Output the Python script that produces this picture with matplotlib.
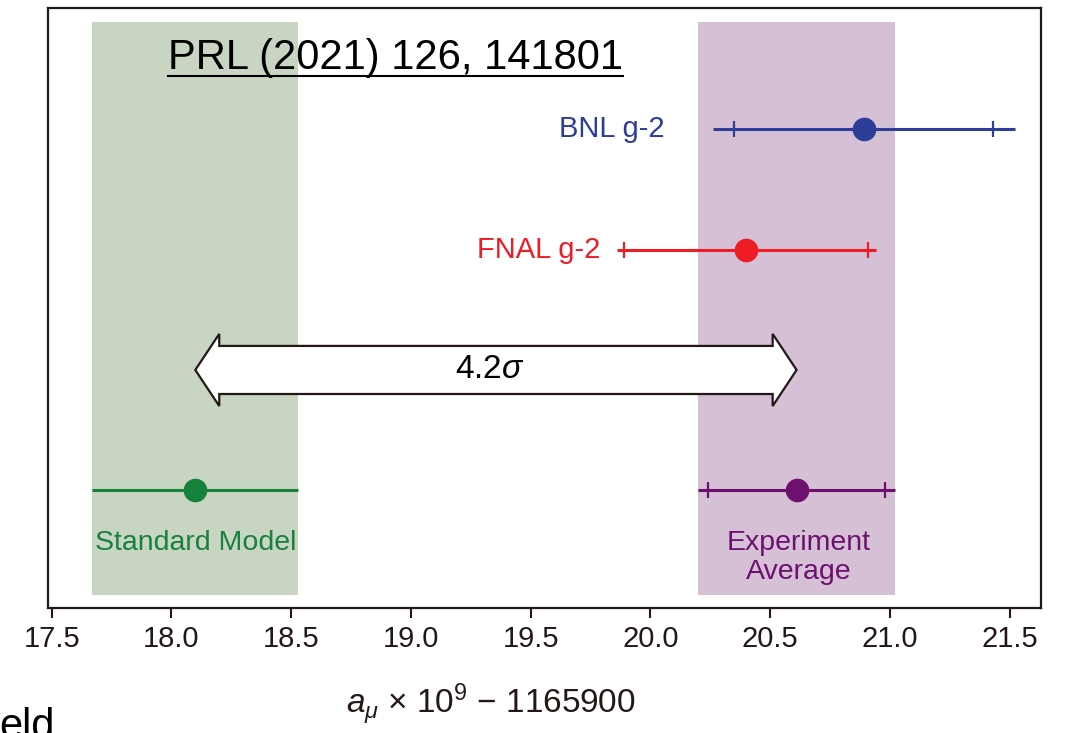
import numpy as np
import matplotlib.pyplot as plt
from matplotlib.patches import Polygon
from matplotlib.lines import Line2D

plt.rcParams['font.family'] = ['Liberation Sans', 'DejaVu Sans']
plt.rcParams['mathtext.fontset'] = 'custom'
plt.rcParams['mathtext.rm'] = 'Liberation Sans'
plt.rcParams['mathtext.it'] = 'Liberation Sans:italic'

# measurements of a_mu x 1e9 - 1165900
names = ["BNL g-2", "FNAL g-2", "Standard Model", "Experiment\nAverage"]
values = [20.89, 20.40, 18.10, 20.61]
tot_err = [0.63, 0.54, 0.43, 0.41]
stat_err = [0.54, 0.51, 0.0, 0.37]
rows = [4, 3, 1, 1]
colors = ["#2c3e98", "#ee1c24", "#17823b", "#6d1070"]
tension = "4.2$\\sigma$"
xticks = [17.5, 18.0, 18.5, 19.0, 19.5, 20.0, 20.5, 21.0, 21.5]

dark = "#231815"

fig = plt.figure(figsize=(10.66, 7.33), dpi=100)
ax = fig.add_axes([0.045, 0.1705, 0.9315, 0.8185])
ax.set_xlim(17.485, 21.63)
ax.set_ylim(0.02, 5.01)

# bands: SM and experiment average
ax.axvspan(values[2] - tot_err[2], values[2] + tot_err[2], ymin=0.022, ymax=0.977,
           color="#c8d5c3", lw=0, zorder=0)
ax.axvspan(values[3] - tot_err[3], values[3] + tot_err[3], ymin=0.022, ymax=0.977,
           color="#d5c0d6", lw=0, zorder=0)

for v, e, s, r, c in zip(values, tot_err, stat_err, rows, colors):
    ax.plot([v - e, v + e], [r, r], color=c, lw=2.2, solid_capstyle='butt', zorder=3)
    if s > 0:
        ax.plot([v - s, v + s], [r, r], ls='none', marker='|', ms=12, mew=1.6,
                color=c, zorder=3)
    ax.plot(v, r, 'o', ms=16, color=c, mec=c, zorder=4)

# labels
ax.text(20.06, 4, names[0], color=colors[0], ha='right', va='center', fontsize=21)
ax.text(19.79, 3, names[1], color=colors[1], ha='right', va='center', fontsize=21)
ax.text(values[2], 0.56, names[2], color=colors[2], ha='center', va='center',
        fontsize=20.5)
ax.text(values[3] + 0.01, 0.44, names[3], color=colors[3], ha='center', va='center',
        fontsize=20.5, linespacing=1.17)

# double arrow between SM and experiment average
x0, x1, ya = values[2], values[3], 2
hl, hh, sh = 0.1, 0.30, 0.20
verts = [(x0, ya), (x0 + hl, ya + hh), (x0 + hl, ya + sh), (x1 - hl, ya + sh),
         (x1 - hl, ya + hh), (x1, ya), (x1 - hl, ya - hh), (x1 - hl, ya - sh),
         (x0 + hl, ya - sh), (x0 + hl, ya - hh)]
ax.add_patch(Polygon(verts, closed=True, facecolor='white', edgecolor=dark, lw=1.6,
                     joinstyle='miter', zorder=2))
ax.text((x0 + x1) / 2 - 0.025, ya, tension, ha='center', va='center', fontsize=24,
        color='black', zorder=5)

title = ax.text(0.35, 0.917, "PRL (2021) 126, 141801", transform=ax.transAxes,
                ha='center', va='center', fontsize=30, color='black')

ax.set_xticks(xticks)
ax.set_xticklabels([f"{t:.1f}" for t in xticks])
ax.set_yticks([])
ax.tick_params(axis='x', direction='out', length=7, width=1.5, color=dark,
               labelsize=21, pad=5, labelcolor=dark)
for sp in ax.spines.values():
    sp.set_color(dark)
    sp.set_linewidth(1.6)

fig.text(0.46, 0.04, "$a_\\mu$ × 10$^9$ − 1165900", ha='center', va='center',
         fontsize=24, color=dark)

# stray slide text at the bottom-left corner
fig.text(-0.001, -0.007, "eld", ha='left', va='baseline', fontsize=30, color='black')

# underline the reference
fig.canvas.draw()
bb = title.get_window_extent(fig.canvas.get_renderer())
yl = (bb.y0 + 2) / fig.bbox.height
fig.add_artist(Line2D([bb.x0 / fig.bbox.width, bb.x1 / fig.bbox.width], [yl, yl],
                      color='black', lw=1.5, transform=fig.transFigure))

fig.savefig("out.png", dpi=100)
